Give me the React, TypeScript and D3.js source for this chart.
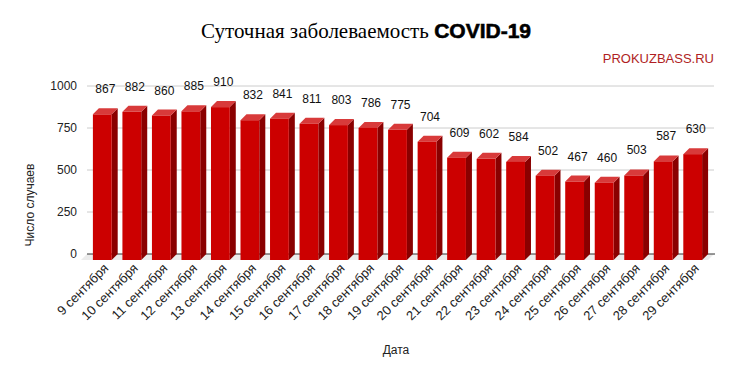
import * as d3 from "d3";
import React from "react";

const days: string[] = [
  "9", "10", "11", "12", "13", "14", "15", "16", "17", "18", "19",
  "20", "21", "22", "23", "24", "25", "26", "27", "28", "29",
];
const cases: number[] = [
  867, 882, 860, 885, 910, 832, 841, 811, 803, 786, 775,
  704, 609, 602, 584, 502, 467, 460, 503, 587, 630,
];
const yTicks: number[] = [0, 250, 500, 750, 1000];

const W = 733;
const H = 374;
const left = 87;
const right = 714;
const top = 86;
const bottom = 254;
const depth = 6;

function App() {
  const labels = days.map((d) => `${d} сентября`);

  const x = d3.scaleBand<string>()
    .domain(labels)
    .range([left, right])
    .paddingInner(0.16)
    .paddingOuter(0.2);

  const y = d3.scaleLinear().domain([0, 1000]).range([bottom, top]);

  const bw = x.bandwidth() - depth;

  return (
    <svg width={W} height={H} style={{ position: "absolute", left: 0, top: 0, background: "#fff" }}>
      <text x={366} y={38} textAnchor="middle" fontSize={21} fill="#000">
        <tspan fontFamily="Liberation Serif, serif">Суточная заболеваемость </tspan>
        <tspan fontFamily="Liberation Sans, Arial, sans-serif" fontWeight="bold" fontSize={21}
          stroke="#000" strokeWidth={0.6}>COVID-19</tspan>
      </text>
      <text x={714} y={63} textAnchor="end" fontSize={13} fill="#b01e23"
        fontFamily="Liberation Sans, Arial, sans-serif">PROKUZBASS.RU</text>

      {/* grid */}
      {yTicks.filter((t) => t > 0).map((t) => (
        <line key={t} x1={left} x2={right} y1={y(t)} y2={y(t)} stroke="#cccccc" strokeWidth={1} />
      ))}
      {yTicks.map((t) => (
        <text key={"l" + t} x={77} y={y(t) + 4} textAnchor="end" fontSize={12} fill="#222"
          fontFamily="Liberation Sans, Arial, sans-serif">{t}</text>
      ))}

      {/* floor shadow */}
      <polygon
        points={`${left},${bottom} ${right},${bottom} ${right - depth},${bottom + depth} ${left - depth},${bottom + depth}`}
        fill="#ececec"
      />
      <line x1={left} x2={right + 1} y1={bottom} y2={bottom} stroke="#333" strokeWidth={1} />

      {cases.map((v, i) => {
        const bx = (x(labels[i]) ?? 0) + depth;
        const by = y(v);
        const fx = bx - depth;
        const fy = by + depth;
        const fb = bottom + depth;
        return (
          <g key={i}>
            <polygon
              points={`${fx + bw},${fy} ${bx + bw},${by} ${bx + bw},${bottom} ${fx + bw},${fb}`}
              fill="#8a0000"
            />
            <polygon
              points={`${fx},${fy} ${bx},${by} ${bx + bw},${by} ${fx + bw},${fy}`}
              fill="#d83a3a"
            />
            <rect x={fx} y={fy} width={bw} height={fb - fy} fill="#cc0000" />
            <text x={fx + bw / 2 + 3} y={by - 15} textAnchor="middle" fontSize={12} fill="#111"
              fontFamily="Liberation Sans, Arial, sans-serif">{v}</text>
            <text
              transform={`translate(${fx + bw / 2 + 7},${fb + 9}) rotate(-45)`}
              textAnchor="end" fontSize={13} fill="#222"
              fontFamily="Liberation Sans, Arial, sans-serif"
            >{labels[i]}</text>
          </g>
        );
      })}

      <text transform={`translate(34,205) rotate(-90)`} textAnchor="middle" fontSize={12} fill="#222"
        fontFamily="Liberation Sans, Arial, sans-serif">Число случаев</text>
      <text x={396} y={354} textAnchor="middle" fontSize={12} fill="#222"
        fontFamily="Liberation Sans, Arial, sans-serif">Дата</text>
    </svg>
  );
}

export default App;
